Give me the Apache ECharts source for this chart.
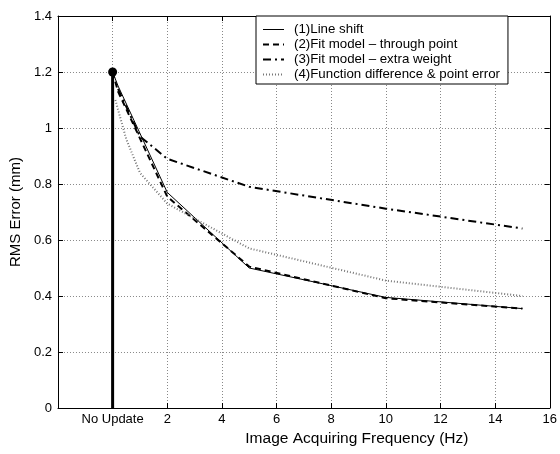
<!DOCTYPE html>
<html>
<head>
<meta charset="utf-8">
<script src="https://cdn.jsdelivr.net/npm/echarts@6/dist/echarts.min.js"></script>
<style>
  html, body { margin: 0; padding: 0; background: #fff; }
  #main { width: 560px; height: 454px; }
</style>
</head>
<body>
<div id="main"></div>
<script>
// x = 0 stands for "No Update"
var xTicks = [-2, 0, 2, 4, 6, 8, 10, 12, 14, 16];
var seriesNames = [
    '(1)Line shift',
    '(2)Fit model \u2013 through point',
    '(3)Fit model \u2013 extra weight',
    '(4)Function difference & point error'
];
var lineShift = [[0, 1.2], [0.2, 1.15], [2, 0.77], [5, 0.5], [10, 0.395], [15, 0.355]];
var throughPoint = [[0, 1.2], [0.2, 1.13], [2, 0.755], [5, 0.505], [10, 0.392], [15, 0.355]];
var extraWeight = [[0.2, 1.14], [1, 0.97], [2, 0.89], [5, 0.79], [10, 0.712], [15, 0.641]];
var funcDiff = [[0.1, 1.1], [0.5, 0.96], [1, 0.84], [2, 0.73], [5, 0.57], [10, 0.455], [15, 0.40]];
var noUpdate = [[0, 0], [0, 1.2]];

var font = 'Liberation Sans, Arial, Helvetica, sans-serif';
var chart = echarts.init(document.getElementById('main'));

var gridLine = { show: true, lineStyle: { color: '#888', width: 1, type: [1, 2] } };

chart.setOption({
    animation: false,
    backgroundColor: '#fff',
    grid: { left: 55, right: 8, top: 16, bottom: 46 },
    legend: {
        orient: 'vertical',
        left: 256,
        top: 16,
        data: [
            { name: seriesNames[0], lineStyle: { width: 1 } },
            { name: seriesNames[1] },
            { name: seriesNames[2] },
            { name: seriesNames[3] }
        ],
        backgroundColor: '#fff',
        borderColor: '#000',
        borderWidth: 1,
        borderRadius: 0,
        padding: [7, 8, 3, 6],
        itemGap: 2,
        itemWidth: 21,
        itemHeight: 12,
        itemStyle: { color: 'rgba(0,0,0,0)', borderWidth: 0 },
        textStyle: { fontFamily: font, fontSize: 13.3, color: '#000', padding: [0, 0, 0, 5] }
    },
    xAxis: [{
        type: 'value',
        min: -2, max: 16, interval: 2,
        name: 'Image Acquiring Frequency (Hz)',
        nameLocation: 'middle',
        nameGap: 19,
        nameTextStyle: { fontFamily: font, fontSize: 15.5, color: '#000', padding: [0, 0, 0, 106] },
        axisLine: { onZero: false, lineStyle: { color: '#000', width: 1 } },
        axisTick: { inside: true, length: 5, lineStyle: { color: '#000' } },
        axisLabel: {
            fontFamily: font, fontSize: 13, color: '#000', margin: 5,
            showMinLabel: true, showMaxLabel: true,
            formatter: function (v) {
                if (v === 0) return 'No Update';
                if (v === -2) return '';
                return String(v);
            }
        },
        splitLine: gridLine
    }, {
        type: 'value', position: 'top',
        min: -2, max: 16, interval: 2,
        axisLine: { show: true, onZero: false, lineStyle: { color: '#000', width: 1 } },
        axisTick: { inside: true, length: 5, lineStyle: { color: '#000' } },
        axisLabel: { show: false },
        splitLine: { show: false }
    }],
    yAxis: [{
        type: 'value',
        min: 0, max: 1.4, interval: 0.2,
        name: 'RMS Error (mm)',
        nameLocation: 'middle',
        nameGap: 33,
        nameTextStyle: { fontFamily: font, fontSize: 15, color: '#000' },
        axisLine: { show: true, onZero: false, lineStyle: { color: '#000', width: 1 } },
        axisTick: { show: true, inside: true, length: 5, lineStyle: { color: '#000' } },
        axisLabel: { fontFamily: font, fontSize: 13, color: '#000', margin: 6 },
        splitLine: gridLine
    }, {
        type: 'value', position: 'right',
        min: 0, max: 1.4, interval: 0.2,
        axisLine: { show: true, onZero: false, lineStyle: { color: '#000', width: 1 } },
        axisTick: { show: true, inside: true, length: 5, lineStyle: { color: '#000' } },
        axisLabel: { show: false },
        splitLine: { show: false }
    }],
    series: [{
        name: 'No Update',
        type: 'line',
        data: noUpdate,
        symbol: 'circle',
        showSymbol: true,
        symbolSize: function (v, p) { return p.dataIndex === 1 ? 9 : 0; },
        itemStyle: { color: '#000' },
        lineStyle: { color: '#000', width: 3 },
        z: 5
    }, {
        name: seriesNames[0],
        type: 'line',
        data: lineShift,
        symbol: 'none',
        lineStyle: { color: '#000', width: 1, type: 'solid' },
        itemStyle: { color: '#000' }
    }, {
        name: seriesNames[1],
        type: 'line',
        data: throughPoint,
        symbol: 'none',
        lineStyle: { color: '#000', width: 2, type: [6, 4] },
        itemStyle: { color: '#000' }
    }, {
        name: seriesNames[2],
        type: 'line',
        data: extraWeight,
        symbol: 'none',
        lineStyle: { color: '#000', width: 2, type: [8, 4, 2, 4] },
        itemStyle: { color: '#000' }
    }, {
        name: seriesNames[3],
        type: 'line',
        data: funcDiff,
        symbol: 'none',
        lineStyle: { color: '#777', width: 2, type: [1, 2] },
        itemStyle: { color: '#777' }
    }]
});
</script>
</body>
</html>
